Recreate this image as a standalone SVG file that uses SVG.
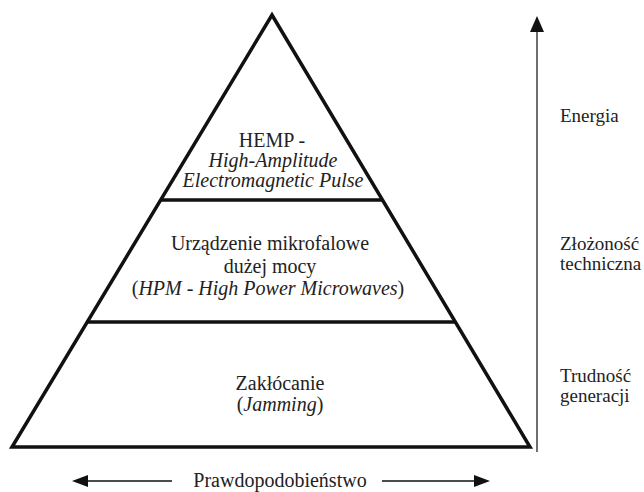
<svg xmlns="http://www.w3.org/2000/svg" width="644" height="492" viewBox="0 0 644 492">
<style>
text{font-family:"Liberation Serif","Times New Roman",serif;font-size:20px;fill:#222}
.c{text-anchor:middle}
.i{font-style:italic}
.r{font-size:19px}
.s{fill:none;stroke:#111;stroke-width:3.5;stroke-linejoin:miter}
</style>
<g id="pyramid">
<polygon class="s" points="272,15 530,447 12,447"/>
</g>
<g id="level-top">
<line class="s" x1="161" y1="200" x2="383" y2="200"/>
<text class="c" x="272" y="147">HEMP -</text>
<text class="c i" x="273" y="167">High-Amplitude</text>
<text class="c i" x="273" y="187">Electromagnetic Pulse</text>
</g>
<g id="level-middle">
<line class="s" x1="87" y1="322" x2="455" y2="322"/>
<text class="c" x="270" y="250">Urządzenie mikrofalowe</text>
<text class="c" x="270" y="273">dużej mocy</text>
<text class="c" x="268" y="295">(<tspan class="i">HPM - High Power Microwaves</tspan>)</text>
</g>
<g id="level-bottom">
<text class="c" x="280" y="390">Zakłócanie</text>
<text class="c" x="280" y="411">(<tspan class="i">Jamming</tspan>)</text>
</g>
<g id="connectors">
<line x1="537" y1="452" x2="537" y2="25" stroke="#222" stroke-width="1.3"/>
<polygon points="537,16 530,32 544,32" fill="#111"/>
<line x1="172" y1="481" x2="82" y2="481" stroke="#111" stroke-width="1.3"/>
<polygon points="72,481 88,475 88,487" fill="#111"/>
<line x1="382" y1="481" x2="478" y2="481" stroke="#111" stroke-width="1.3"/>
<polygon points="490,481 474,475 474,487" fill="#111"/>
</g>
<g id="axis-labels">
<text class="r" x="560" y="122">Energia</text>
<text class="r" x="560" y="250">Złożoność</text>
<text class="r" x="560" y="270">techniczna</text>
<text class="r" x="560" y="382">Trudność</text>
<text class="r" x="560" y="402">generacji</text>
<text class="c" x="280" y="487">Prawdopodobieństwo</text>
</g>
</svg>
